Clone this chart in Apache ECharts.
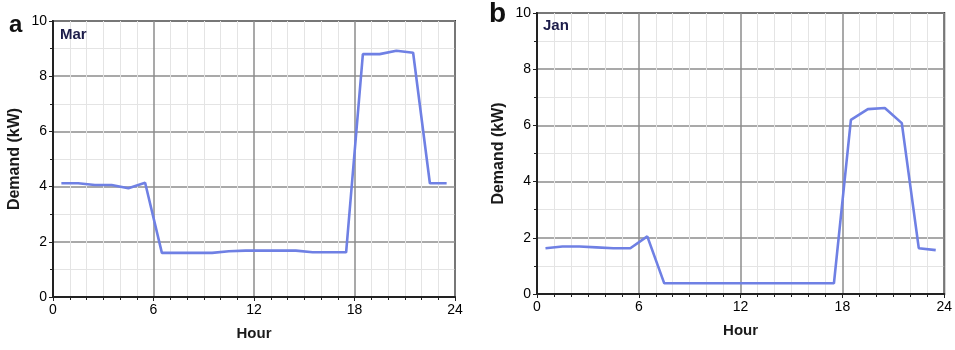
<!DOCTYPE html>
<html>
<head>
<meta charset="utf-8">
<script src="https://cdn.jsdelivr.net/npm/echarts@6/dist/echarts.min.js"></script>
<style>
  html, body { margin: 0; padding: 0; background: #fff; }
  #main { width: 955px; height: 350px; }
</style>
</head>
<body>
<div id="main"></div>
<script>
// hourly samples, plotted at the middle of each hour
const hours = [0.5, 1.5, 2.5, 3.5, 4.5, 5.5, 6.5, 7.5, 8.5, 9.5, 10.5, 11.5,
               12.5, 13.5, 14.5, 15.5, 16.5, 17.5, 18.5, 19.5, 20.5, 21.5, 22.5, 23.5];

const marDemand = [4.12, 4.12, 4.06, 4.06, 3.94, 4.14, 1.6, 1.6, 1.6, 1.6, 1.66, 1.68,
                   1.68, 1.68, 1.68, 1.62, 1.62, 1.62, 8.8, 8.8, 8.92, 8.85, 4.12, 4.12];

const janDemand = [1.63, 1.69, 1.69, 1.66, 1.63, 1.63, 2.05, 0.38, 0.38, 0.38, 0.38, 0.38,
                   0.38, 0.38, 0.38, 0.38, 0.38, 0.38, 6.2, 6.58, 6.62, 6.08, 1.63, 1.56];

const font = 'Liberation Sans, Arial, sans-serif';
const lineColor = '#6f80e4';

function xAxisFor(i) {
    return {
        type: 'value', gridIndex: i, min: 0, max: 24, interval: 6,
        name: 'Hour', nameLocation: 'middle', nameGap: 29,
        nameTextStyle: { fontFamily: font, fontWeight: 'bold', fontSize: 15, color: '#1a1a1a' },
        axisLine: { lineStyle: { color: '#222', width: 2 } },
        axisTick: { show: true, length: 4, lineStyle: { color: '#222' } },
        minorTick: { show: true, splitNumber: 6, length: 3, lineStyle: { color: '#222' } },
        axisLabel: { fontFamily: font, fontSize: 14, color: '#000', margin: 6 },
        splitLine: { show: true, lineStyle: { color: '#8c8c8c', width: 1.5 } },
        minorSplitLine: { show: true, lineStyle: { color: '#e4e4e4', width: 1 } }
    };
}

function yAxisFor(i) {
    return {
        type: 'value', gridIndex: i, min: 0, max: 10, interval: 2,
        name: 'Demand (kW)', nameLocation: 'middle', nameGap: 30,
        nameTextStyle: { fontFamily: font, fontWeight: 'bold', fontSize: 16, color: '#1a1a1a' },
        axisLine: { show: true, lineStyle: { color: '#222', width: 2 } },
        axisTick: { show: true, length: 4, lineStyle: { color: '#222' } },
        minorTick: { show: true, splitNumber: 2, length: 3, lineStyle: { color: '#222' } },
        axisLabel: { fontFamily: font, fontSize: 14, color: '#000', margin: 6 },
        splitLine: { show: true, lineStyle: { color: '#8c8c8c', width: 1.5 } },
        minorSplitLine: { show: true, lineStyle: { color: '#e4e4e4', width: 1 } }
    };
}

function pairs(ys) {
    return hours.map((h, k) => [h, ys[k]]);
}

var chart = echarts.init(document.getElementById('main'));

var option = {
    animation: false,
    backgroundColor: '#fff',
    grid: [
        { left: 53, top: 21, width: 402, height: 276, show: true, borderColor: '#3a3a3a', borderWidth: 2 },
        { left: 537, top: 13, width: 409, height: 281, show: true, borderColor: '#3a3a3a', borderWidth: 2 }
    ],
    xAxis: [xAxisFor(0), xAxisFor(1)],
    yAxis: [yAxisFor(0), yAxisFor(1)],
    series: [
        {
            name: 'Mar', type: 'line', xAxisIndex: 0, yAxisIndex: 0,
            data: pairs(marDemand), showSymbol: false,
            lineStyle: { color: lineColor, width: 2.6 }
        },
        {
            name: 'Jan', type: 'line', xAxisIndex: 1, yAxisIndex: 1,
            data: pairs(janDemand), showSymbol: false,
            lineStyle: { color: lineColor, width: 2.6 }
        }
    ],
    graphic: [
        { type: 'text', z: 100, left: 9, top: 13, style: { text: 'a', fontFamily: font, fontWeight: 'bold', fontSize: 24, fill: '#111' } },
        { type: 'text', z: 100, left: 489, top: 0, style: { text: 'b', fontFamily: font, fontWeight: 'bold', fontSize: 28, fill: '#111' } },
        { type: 'text', z: 100, left: 60, top: 27, style: { text: 'Mar', fontFamily: font, fontWeight: 'bold', fontSize: 15, fill: '#1c1c4a' } },
        { type: 'text', z: 100, left: 543, top: 18, style: { text: 'Jan', fontFamily: font, fontWeight: 'bold', fontSize: 15, fill: '#1c1c4a' } }
    ]
};

chart.setOption(option);
</script>
</body>
</html>
